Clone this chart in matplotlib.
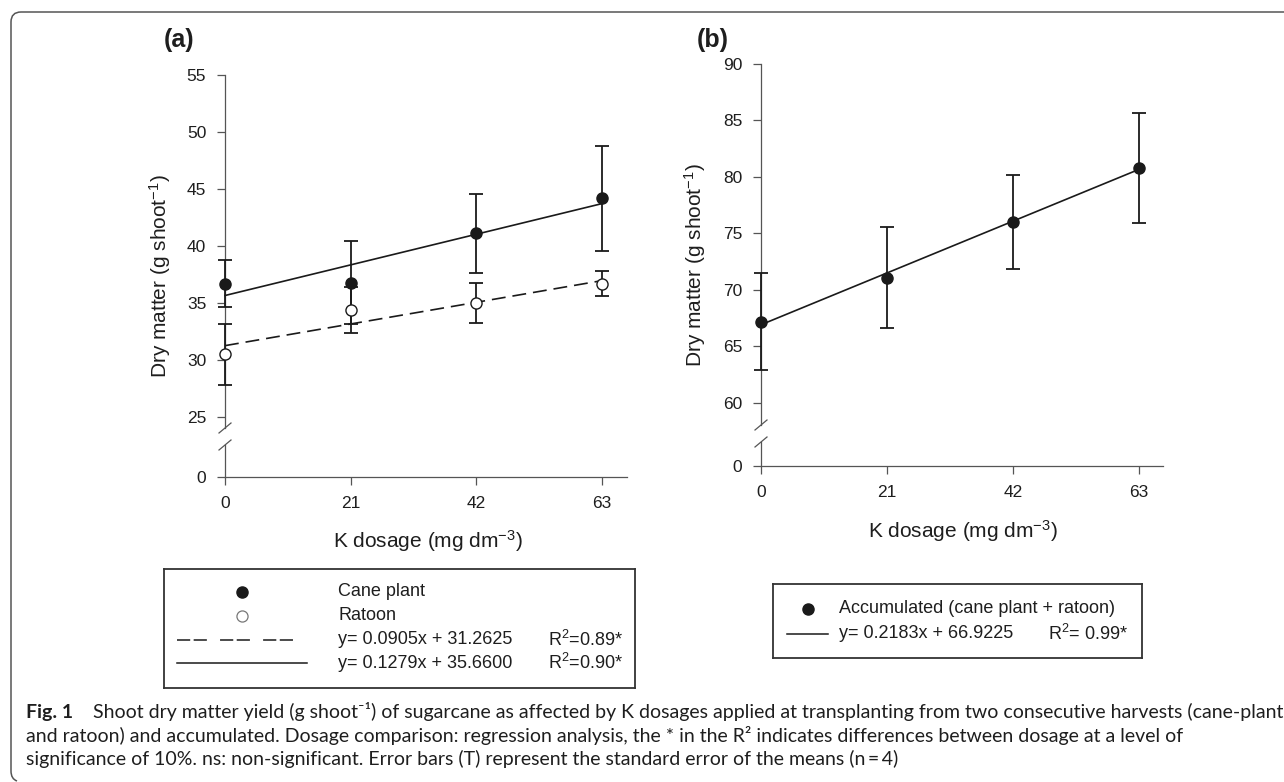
import matplotlib
matplotlib.use("Agg")
import matplotlib.pyplot as plt
import numpy as np
from matplotlib.lines import Line2D
from matplotlib.path import Path
from matplotlib.patches import PathPatch

plt.rcParams["font.family"] = ["Liberation Sans", "DejaVu Sans"]
plt.rcParams["mathtext.fontset"] = "custom"
plt.rcParams["mathtext.rm"] = "Liberation Sans"
plt.rcParams["mathtext.it"] = "Liberation Sans:italic"
plt.rcParams["mathtext.bf"] = "Liberation Sans:bold"
plt.rcParams["lines.scale_dashes"] = False

# data
k_dose = [0, 21, 42, 63]
cane_mean = [36.7, 36.8, 41.1, 44.2]
cane_se = [2.05, 3.6, 3.45, 4.6]
ratoon_mean = [30.5, 34.4, 35.0, 36.7]
ratoon_se = [2.7, 2.0, 1.75, 1.1]
accum_mean = [67.2, 71.1, 76.0, 80.8]
accum_se = [4.3, 4.5, 4.15, 4.9]

# regression (slope, intercept)
cane_fit = (0.1279, 35.6600)
ratoon_fit = (0.0905, 31.2625)
accum_fit = (0.2183, 66.9225)

yticks_a = [25, 30, 35, 40, 45, 50, 55]
yticks_b = [60, 65, 70, 75, 80, 85, 90]

caption_lines = [
    "Shoot dry matter yield (g shoot\u207b\u00b9) of sugarcane as affected by K dosages applied at "
    "transplanting from two consecutive harvests (cane-plant",
    "and ratoon) and accumulated. Dosage comparison: regression analysis, the * in the R\u00b2 "
    "indicates differences between dosage at a level of",
    "significance of 10%. ns: non-significant. Error bars (T) represent the standard error "
    "of the means (n\u2009=\u20094)",
]

W, H = 1284, 782
AXC = "#555555"
TXT = "#1e1e1e"
LNC = "#1a1a1a"


def fx(px):
    return px / W


def fy(py):
    return 1 - py / H


def box(left, top, right, bottom):
    return [fx(left), fy(bottom), (right - left) / W, (bottom - top) / H]


fig = plt.figure(figsize=(W / 100, H / 100), dpi=100)


def make_panel(top_box, low_box, ylim_top, yticks, xmax):
    ax = fig.add_axes(top_box)
    axl = fig.add_axes(low_box)
    for a in (ax, axl):
        a.set_xlim(0, xmax)
        a.patch.set_alpha(0)
        a.spines["top"].set_visible(False)
        a.spines["right"].set_visible(False)
        for s in ("left", "bottom"):
            a.spines[s].set_color(AXC)
            a.spines[s].set_linewidth(0.9)
        a.tick_params(direction="out", length=5.5, width=0.9, colors=AXC,
                      labelcolor=TXT, labelsize=12.5, pad=8)
    ax.spines["bottom"].set_visible(False)
    ax.set_xticks([])
    ax.set_ylim(*ylim_top)
    ax.set_yticks(yticks)
    axl.set_ylim(0, 2.5)
    axl.set_yticks([0])
    axl.set_xticks(k_dose)
    return ax, axl


def break_marks(top_box, low_box):
    x = top_box[0]
    for y in (top_box[1], low_box[1] + low_box[3]):
        fig.add_artist(Line2D([x - 6 / W, x + 6 / W], [y - 5 / H, y + 5 / H],
                              transform=fig.transFigure, color=AXC, lw=0.9))


def draw_series(ax, mean, se, face):
    eb = ax.errorbar(k_dose, mean, yerr=se, fmt="none", ecolor=LNC,
                     elinewidth=1.3, capsize=4.8, capthick=1.3, zorder=3)
    for art in eb.lines[1] + eb.lines[2]:
        art.set_clip_on(False)
    ax.plot(k_dose, mean, "o", ms=8, mfc=face, mec=LNC, mew=1.0,
            clip_on=False, zorder=5)


def draw_fit(ax, fit, dashes=None):
    xs = np.array([k_dose[0], k_dose[-1]])
    ln, = ax.plot(xs, fit[0] * xs + fit[1], color=LNC, lw=1.2, zorder=4,
                  clip_on=False)
    if dashes:
        ln.set_dashes(dashes)


# ---- panel (a)
ta = box(225, 75, 627, 428)
la = box(225, 445, 627, 477)
ax_a, axl_a = make_panel(ta, la, (24.04, 55), yticks_a, 67.2)
break_marks(ta, la)
draw_series(ax_a, ratoon_mean, ratoon_se, "white")
draw_series(ax_a, cane_mean, cane_se, LNC)
draw_fit(ax_a, ratoon_fit, dashes=(10, 5))
draw_fit(ax_a, cane_fit)

# ---- panel (b)
tb = box(761, 64, 1163, 425)
lb = box(761, 442, 1163, 466)
ax_b, axl_b = make_panel(tb, lb, (58.05, 90), yticks_b, 67.0)
break_marks(tb, lb)
draw_series(ax_b, accum_mean, accum_se, LNC)
draw_fit(ax_b, accum_fit)

# axis labels and panel tags
ylab = "Dry matter (g shoot$^{-1}$)"
xlab = "K dosage (mg dm$^{-3}$)"
fig.text(fx(160), fy(276), ylab, rotation=90, ha="center", va="center",
         fontsize=15, color=TXT)
fig.text(fx(695), fy(265), ylab, rotation=90, ha="center", va="center",
         fontsize=15, color=TXT)
fig.text(fx(428), fy(541), xlab, ha="center", va="center", fontsize=15, color=TXT)
fig.text(fx(963), fy(531), xlab, ha="center", va="center", fontsize=15, color=TXT)
fig.text(fx(164), fy(40), "(a)", ha="left", va="center", fontsize=18,
         fontweight="bold", color=TXT)
fig.text(fx(697), fy(40), "(b)", ha="left", va="center", fontsize=18,
         fontweight="bold", color=TXT)


# ---- legends, drawn in boxes with pixel coordinates
def legend_axes(left, top, right, bottom):
    lg = fig.add_axes(box(left, top, right, bottom))
    lg.set_xlim(left, right)
    lg.set_ylim(bottom, top)
    lg.set_xticks([])
    lg.set_yticks([])
    for s in lg.spines.values():
        s.set_color("#333333")
        s.set_linewidth(1.3)
    return lg


lg_a = legend_axes(164, 569, 635, 688)
lg_a.plot([242], [592], "o", ms=8, mfc=LNC, mec=LNC)
lg_a.plot([242], [616], "o", ms=8, mfc="white", mec="#777777", mew=0.9)
d_ln, = lg_a.plot([177, 296], [640, 640], color=LNC, lw=1.1)
d_ln.set_dashes((9.5, 2.5, 9.5, 9.5))
lg_a.plot([177, 307], [663, 663], color=LNC, lw=1.1)
leg_a_rows = [("Cane plant", ""), ("Ratoon", ""),
              ("y= %.4fx + %.4f" % ratoon_fit, "R$^{2}$=0.89*"),
              ("y= %.4fx + %.4f" % cane_fit, "R$^{2}$=0.90*")]
for yy, (lab, r2) in zip([592, 616, 640, 663], leg_a_rows):
    lg_a.text(338, yy, lab, ha="left", va="center", fontsize=13, color=TXT)
    if r2:
        lg_a.text(548, yy, r2, ha="left", va="center", fontsize=13, color=TXT)

lg_b = legend_axes(773, 584, 1142, 658)
lg_b.plot([808], [609], "o", ms=8, mfc=LNC, mec=LNC)
lg_b.plot([787, 828], [634, 634], color=LNC, lw=1.1)
lg_b.text(839, 609, "Accumulated (cane plant + ratoon)", ha="left", va="center",
          fontsize=13, color=TXT)
lg_b.text(839, 634, "y= %.4fx + %.4f" % accum_fit, ha="left", va="center",
          fontsize=13, color=TXT)
lg_b.text(1048, 634, "R$^{2}$= 0.99*", ha="left", va="center", fontsize=13,
          color=TXT)

# ---- caption, fitted to the width of the first line
cap_font = ["Lato", "DejaVu Sans"]
cap_size = 11.0
gap = 20
x0, x1 = 26, 1278
baselines = [718, 742, 765]
renderer = fig.canvas.get_renderer()
t_fig = fig.text(fx(x0), fy(baselines[0]), "Fig. 1", fontsize=cap_size,
                 fontweight="bold", family=cap_font, va="baseline", color=TXT)
t_lines = []
for i, (line, yb) in enumerate(zip(caption_lines, baselines)):
    t_lines.append(fig.text(fx(x0), fy(yb), line, fontsize=cap_size,
                            family=cap_font, va="baseline", color=TXT))
w_b = t_fig.get_window_extent(renderer).width
w_1 = t_lines[0].get_window_extent(renderer).width
cap_size *= (x1 - x0 - gap) / (w_b + w_1)
for t in [t_fig] + t_lines:
    t.set_fontsize(cap_size)
w_b = t_fig.get_window_extent(renderer).width
t_lines[0].set_x(fx(x0 + w_b + gap))

# ---- outer frame (top and left edges with rounded corners)
frame_px = [(W, 12), (21, 12), (11, 12), (11, 22), (11, 771), (11, 779), (17, 781)]
codes = [Path.MOVETO, Path.LINETO, Path.CURVE3, Path.CURVE3, Path.LINETO,
         Path.CURVE3, Path.CURVE3]
frame = Path([(fx(a), fy(b)) for a, b in frame_px], codes)
fig.add_artist(PathPatch(frame, fill=False, edgecolor="#555555", lw=1.1,
                         transform=fig.transFigure))

fig.savefig("out.png", dpi=100, facecolor="white")
